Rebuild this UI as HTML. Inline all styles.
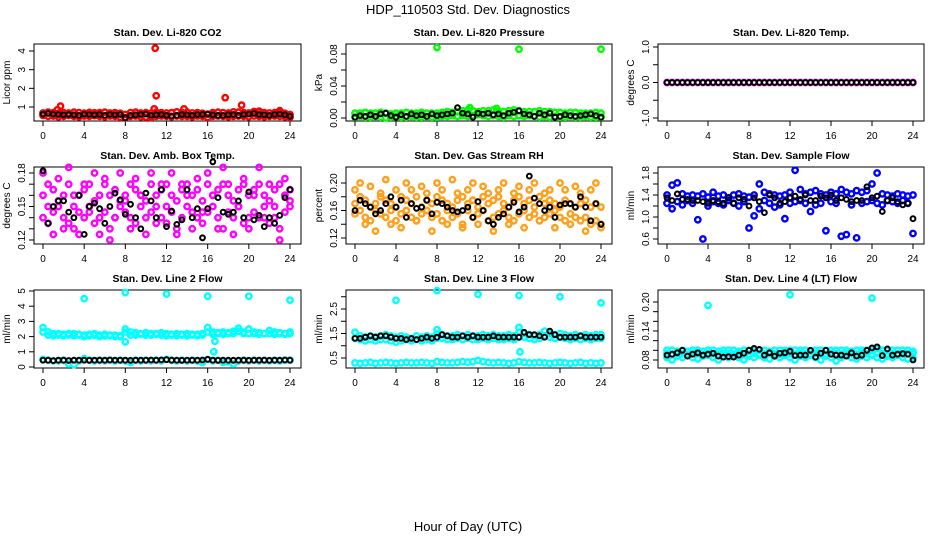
<!DOCTYPE html>
<html><head><meta charset="utf-8">
<style>
html,body{margin:0;padding:0;background:#fff;}
svg{display:block;font-family:"Liberation Sans",sans-serif;}
</style></head>
<body>
<svg id="chart" width="936" height="540" viewBox="0 0 936 540" xmlns="http://www.w3.org/2000/svg">
<text x="468" y="14" text-anchor="middle" font-size="13">HDP_110503  Std. Dev. Diagnostics</text>
<text x="468" y="531" text-anchor="middle" font-size="13">Hour of Day (UTC)</text>
</svg>
<script>
const hours = [0,0.5,1,1.5,2,2.5,3,3.5,4,4.5,5,5.5,6,6.5,7,7.5,8,8.5,9,9.5,10,10.5,11,11.5,12,12.5,13,13.5,14,14.5,15,15.5,16,16.5,17,17.5,18,18.5,19,19.5,20,20.5,21,21.5,22,22.5,23,23.5,24];
const xTicks = [0,4,8,12,16,20,24];

const co2Hi = [0.68,0.72,0.7,0.66,0.7,0.68,0.72,0.7,0.67,0.71,0.69,0.7,0.72,0.68,0.7,0.66,0.6,0.7,0.72,0.68,0.7,0.66,0.72,0.7,0.68,0.7,0.74,0.7,0.72,0.68,0.7,0.66,0.62,0.7,0.72,0.7,0.68,0.74,0.72,0.7,0.68,0.76,0.72,0.7,0.68,0.7,0.72,0.66,0.6];
const co2Lo = [0.55,0.5,0.52,0.48,0.5,0.55,0.5,0.48,0.52,0.5,0.54,0.5,0.48,0.52,0.5,0.46,0.42,0.5,0.52,0.48,0.46,0.44,0.5,0.52,0.5,0.48,0.52,0.5,0.5,0.48,0.52,0.5,0.44,0.5,0.52,0.5,0.48,0.5,0.52,0.5,0.48,0.52,0.5,0.48,0.5,0.52,0.5,0.48,0.45];
const co2Blk = [0.62,0.65,0.62,0.6,0.58,0.6,0.58,0.55,0.62,0.6,0.58,0.6,0.55,0.6,0.58,0.6,0.42,0.55,0.58,0.6,0.62,0.55,0.58,0.6,0.55,0.52,0.55,0.6,0.58,0.55,0.6,0.6,0.62,0.58,0.55,0.55,0.58,0.6,0.55,0.6,0.62,0.65,0.6,0.58,0.55,0.6,0.62,0.58,0.5];
const co2OutX = [1.4,1.7,10.8,10.9,11.0,13.7,17.7,19.3,21.0,23.0];
const co2OutY = [0.85,1.05,0.9,4.15,1.6,0.9,1.5,1.1,0.78,0.8];

const prHi = [0.006,0.006,0.007,0.006,0.006,0.007,0.006,0.005,0.006,0.006,0.007,0.006,0.006,0.007,0.006,0.006,0.006,0.007,0.008,0.007,0.008,0.009,0.01,0.009,0.008,0.009,0.009,0.01,0.009,0.008,0.009,0.01,0.009,0.008,0.008,0.008,0.009,0.008,0.008,0.007,0.007,0.006,0.007,0.007,0.006,0.006,0.006,0.007,0.006];
const prLo = [0.001,0.002,0.001,0.001,0.002,0.001,0.0,0.001,0.002,0.001,0.001,0.002,0.001,0.001,0.002,0.001,0.001,0.002,0.002,0.003,0.002,0.003,0.002,0.003,0.004,0.003,0.002,0.003,0.002,0.001,0.003,0.002,0.003,0.002,0.003,0.002,0.001,0.002,0.001,0.002,0.001,0.001,0.002,0.001,0.001,0.002,0.001,0.001,0.001];
const prBlk = [0.001,0.003,0.002,0.004,0.002,0.005,0.006,0.003,0.001,0.004,0.002,0.005,0.003,0.004,0.002,0.005,0.003,0.004,0.005,0.006,0.013,0.006,0.005,0.001,0.006,0.005,0.006,0.004,0.005,0.003,0.006,0.007,0.009,0.005,0.004,0.002,0.006,0.004,0.006,0.001,0.002,0.004,0.003,0.002,0.003,0.004,0.005,0.003,0.001];
const prOutX = [8,16,24,11.2,13.8];
const prOutY = [0.088,0.086,0.086,0.013,0.012];

const tmpMag = [0,0,0,0,0,0,0,0,0,0,0,0,0,0,0,0,0,0,0,0,0,0,0,0,0,0,0,0,0,0,0,0,0,0,0,0,0,0,0,0,0,0,0,0,0,0,0,0,0];
const tmpBlk = [0,0,0,0,0,0,0,0,0,0,0,0,0,0,0,0,0,0,0,0,0,0,0,0,0,0,0,0,0,0,0,0,0,0,0,0,0,0,0,0,0,0,0,0,0,0,0,0,0];

const ab1 = [0.16,0.17,0.165,0.155,0.16,0.17,0.15,0.16,0.165,0.17,0.155,0.16,0.17,0.16,0.165,0.155,0.16,0.17,0.165,0.16,0.155,0.17,0.16,0.165,0.17,0.16,0.155,0.165,0.17,0.16,0.165,0.155,0.17,0.16,0.165,0.17,0.16,0.155,0.165,0.17,0.16,0.165,0.17,0.16,0.155,0.165,0.17,0.16,0.165];
const ab2 = [0.14,0.135,0.145,0.15,0.14,0.135,0.13,0.145,0.14,0.15,0.135,0.14,0.145,0.13,0.14,0.15,0.145,0.14,0.135,0.15,0.14,0.145,0.135,0.14,0.15,0.145,0.13,0.14,0.15,0.145,0.14,0.135,0.145,0.15,0.14,0.13,0.145,0.14,0.15,0.135,0.14,0.145,0.14,0.15,0.135,0.14,0.13,0.145,0.15];
const ab3 = [0.18,0.15,0.125,0.175,0.13,0.185,0.16,0.125,0.17,0.145,0.18,0.125,0.175,0.12,0.14,0.18,0.155,0.13,0.175,0.16,0.125,0.18,0.15,0.17,0.135,0.18,0.125,0.17,0.16,0.13,0.175,0.145,0.18,0.16,0.13,0.185,0.17,0.125,0.15,0.175,0.13,0.16,0.185,0.14,0.17,0.15,0.12,0.175,0.155];
const abBlk = [0.182,0.135,0.15,0.155,0.155,0.145,0.14,0.16,0.125,0.15,0.153,0.148,0.135,0.15,0.162,0.156,0.143,0.152,0.14,0.13,0.162,0.155,0.14,0.165,0.132,0.146,0.134,0.138,0.165,0.14,0.148,0.122,0.148,0.19,0.158,0.145,0.143,0.145,0.155,0.14,0.163,0.138,0.142,0.132,0.14,0.135,0.142,0.158,0.165];

const rh1 = [0.17,0.18,0.175,0.165,0.17,0.18,0.175,0.17,0.165,0.18,0.175,0.17,0.18,0.165,0.175,0.17,0.18,0.175,0.17,0.165,0.175,0.18,0.17,0.175,0.165,0.18,0.17,0.175,0.18,0.17,0.165,0.175,0.18,0.17,0.175,0.165,0.18,0.17,0.175,0.17,0.165,0.175,0.17,0.165,0.17,0.175,0.165,0.17,0.165];
const rh2 = [0.155,0.16,0.15,0.145,0.16,0.155,0.15,0.16,0.145,0.155,0.16,0.15,0.145,0.155,0.16,0.15,0.155,0.145,0.16,0.15,0.155,0.14,0.16,0.15,0.155,0.16,0.145,0.15,0.155,0.16,0.15,0.145,0.155,0.16,0.15,0.155,0.145,0.15,0.155,0.16,0.15,0.145,0.155,0.15,0.145,0.15,0.14,0.145,0.14];
const rh3 = [0.19,0.2,0.14,0.195,0.13,0.185,0.205,0.14,0.19,0.135,0.2,0.19,0.145,0.195,0.185,0.13,0.2,0.19,0.14,0.205,0.185,0.135,0.19,0.2,0.14,0.195,0.185,0.13,0.19,0.2,0.14,0.185,0.195,0.135,0.19,0.2,0.145,0.185,0.19,0.135,0.2,0.19,0.14,0.195,0.185,0.13,0.19,0.2,0.135];
const rhBlk = [0.16,0.175,0.17,0.165,0.155,0.16,0.17,0.18,0.165,0.175,0.15,0.17,0.163,0.165,0.175,0.155,0.172,0.17,0.165,0.16,0.158,0.16,0.165,0.15,0.173,0.16,0.145,0.14,0.15,0.155,0.165,0.172,0.158,0.165,0.21,0.178,0.17,0.16,0.165,0.15,0.168,0.17,0.17,0.165,0.18,0.165,0.145,0.17,0.14];

const sf1 = [1.4,1.58,1.62,1.42,1.38,1.4,1.38,1.42,1.36,1.45,1.38,1.4,1.35,1.4,1.42,1.38,1.36,1.4,1.6,1.45,1.42,1.4,1.38,1.4,1.45,1.85,1.5,1.42,1.45,1.48,1.42,1.4,1.45,1.42,1.5,1.45,1.42,1.48,1.45,1.48,1.6,1.8,1.42,1.4,1.38,1.42,1.4,1.38,1.4];
const sf2 = [1.25,1.15,1.28,1.22,1.3,1.25,0.95,0.6,1.2,1.28,1.25,1.22,1.3,1.25,1.2,1.28,0.8,1.02,1.15,1.3,1.25,1.18,1.22,0.97,1.25,1.28,1.3,1.25,1.1,1.22,1.25,0.75,1.28,1.25,0.65,0.68,1.22,0.62,1.25,1.28,1.3,1.25,1.22,1.3,1.28,1.25,1.3,1.25,0.7];
const sfBlk = [1.35,1.3,1.42,1.32,1.32,1.3,1.3,1.28,1.25,1.3,1.28,1.25,1.35,1.25,1.35,1.32,1.2,1.35,1.28,1.08,1.4,1.35,1.25,1.28,1.35,1.38,1.32,1.4,1.3,1.3,1.38,1.35,1.4,1.3,1.35,1.32,1.28,1.3,1.3,1.55,1.35,1.38,1.1,1.3,1.35,1.28,1.22,1.25,0.97];

const l2a = [2.6,2.3,2.2,2.2,2.15,2.2,2.2,2.15,2.1,2.15,2.2,2.1,2.15,2.1,2.1,2.05,2.5,2.3,2.25,2.2,2.25,2.2,2.2,2.25,2.2,2.15,2.2,2.15,2.2,2.15,2.15,2.2,2.6,2.3,2.25,2.3,2.25,2.35,2.55,2.3,2.5,2.3,2.25,2.2,2.4,2.3,2.25,2.2,2.3];
const l2b = [2.3,2.1,2.05,2.1,2.05,2.1,2.05,2.1,2.0,2.05,2.1,2.0,2.05,2.05,2.0,2.0,2.3,2.1,2.1,2.15,2.1,2.1,2.15,2.1,2.05,2.1,2.05,2.1,2.05,2.1,2.05,2.1,2.3,2.15,2.2,2.15,2.2,2.2,2.35,2.2,2.2,2.2,2.15,2.2,2.2,2.15,2.2,2.15,2.2];
const l2c = [0.5,0.45,0.4,0.4,0.45,0.2,0.15,0.4,0.55,0.45,0.4,0.45,0.4,0.45,0.4,0.45,0.4,0.3,0.45,0.4,0.45,0.4,0.45,0.4,0.5,0.45,0.4,0.45,0.4,0.45,0.4,0.3,0.5,0.4,0.45,0.3,0.35,0.2,0.4,0.45,0.4,0.45,0.4,0.45,0.4,0.45,0.4,0.45,0.45];
const l2Blk = [0.45,0.45,0.42,0.45,0.45,0.43,0.45,0.45,0.45,0.44,0.45,0.45,0.45,0.46,0.45,0.45,0.45,0.44,0.45,0.45,0.45,0.46,0.45,0.47,0.48,0.45,0.45,0.44,0.45,0.45,0.45,0.46,0.5,0.45,0.44,0.45,0.45,0.44,0.45,0.45,0.44,0.45,0.45,0.45,0.44,0.45,0.45,0.46,0.45];
const l2OutX = [4,8,8,12,16,16.6,16.7,20,24];
const l2OutY = [4.5,4.9,1.65,4.8,4.65,1.0,1.7,4.65,4.4];

const l3a = [1.55,1.4,1.35,1.4,1.35,1.4,1.45,1.4,1.35,1.4,1.35,1.3,1.4,1.35,1.4,1.35,1.5,1.45,1.4,1.4,1.45,1.4,1.45,1.4,1.4,1.45,1.4,1.45,1.4,1.4,1.45,1.4,1.55,1.5,1.45,1.4,1.45,1.6,1.5,1.45,1.5,1.45,1.4,1.45,1.4,1.45,1.4,1.45,1.45];
const l3b = [1.3,1.25,1.2,1.25,1.2,1.25,1.25,1.2,1.15,1.2,1.25,1.2,1.25,1.2,1.25,1.2,1.3,1.3,1.25,1.25,1.3,1.25,1.3,1.25,1.25,1.3,1.25,1.3,1.25,1.25,1.3,1.25,1.35,1.35,1.3,1.25,1.3,1.4,1.35,1.3,1.35,1.3,1.25,1.3,1.25,1.3,1.25,1.3,1.3];
const l3c = [0.3,0.28,0.3,0.32,0.28,0.3,0.32,0.3,0.28,0.3,0.32,0.3,0.3,0.32,0.3,0.28,0.35,0.32,0.3,0.3,0.32,0.35,0.33,0.35,0.4,0.35,0.32,0.3,0.32,0.3,0.28,0.3,0.35,0.32,0.3,0.3,0.32,0.3,0.28,0.3,0.32,0.3,0.28,0.3,0.32,0.28,0.3,0.28,0.3];
const l3Blk = [1.3,1.3,1.35,1.4,1.35,1.4,1.4,1.35,1.3,1.3,1.25,1.3,1.25,1.3,1.35,1.3,1.35,1.45,1.4,1.35,1.35,1.4,1.35,1.4,1.35,1.35,1.35,1.4,1.35,1.35,1.35,1.35,1.35,1.55,1.45,1.45,1.4,1.35,1.6,1.45,1.35,1.35,1.35,1.35,1.4,1.35,1.35,1.35,1.35];
const l3OutX = [4,8,8,12,16,16,16.1,20,24];
const l3OutY = [2.85,3.25,1.65,3.1,3.05,1.75,0.75,3.0,2.75];

const l4a = [0.1,0.1,0.098,0.1,0.098,0.1,0.1,0.098,0.1,0.1,0.098,0.1,0.1,0.1,0.098,0.1,0.1,0.1,0.1,0.1,0.098,0.1,0.1,0.1,0.1,0.1,0.1,0.1,0.098,0.1,0.1,0.1,0.1,0.1,0.1,0.1,0.098,0.1,0.1,0.1,0.1,0.103,0.1,0.1,0.1,0.1,0.1,0.1,0.098];
const l4b = [0.085,0.08,0.088,0.085,0.09,0.085,0.082,0.088,0.09,0.085,0.08,0.088,0.085,0.09,0.085,0.08,0.088,0.085,0.09,0.085,0.082,0.088,0.085,0.09,0.085,0.08,0.088,0.085,0.09,0.085,0.08,0.088,0.085,0.078,0.085,0.09,0.085,0.082,0.088,0.085,0.09,0.085,0.082,0.088,0.085,0.09,0.085,0.082,0.085];
const l4c = [0.093,0.092,0.094,0.093,0.092,0.094,0.093,0.092,0.094,0.093,0.092,0.094,0.093,0.092,0.094,0.093,0.092,0.094,0.093,0.092,0.094,0.093,0.092,0.094,0.093,0.092,0.094,0.093,0.092,0.094,0.093,0.092,0.094,0.093,0.092,0.094,0.093,0.092,0.094,0.093,0.092,0.094,0.093,0.092,0.094,0.093,0.092,0.094,0.093];
const l4Blk = [0.09,0.092,0.095,0.1,0.088,0.092,0.095,0.09,0.092,0.094,0.088,0.086,0.087,0.086,0.09,0.094,0.1,0.104,0.102,0.09,0.095,0.088,0.094,0.095,0.098,0.089,0.09,0.09,0.1,0.086,0.094,0.1,0.092,0.09,0.09,0.088,0.095,0.088,0.09,0.1,0.105,0.107,0.089,0.103,0.09,0.092,0.093,0.092,0.08];
const l4OutX = [4,12,20];
const l4OutY = [0.193,0.215,0.208];

const svg = document.getElementById('chart');
const NS = 'http://www.w3.org/2000/svg';
const colLeft = [34,346,658], colRight = [301,612,924];
const rowTop = [44,167,290], rowBottom = [121,244,368];

function mk(tag, attrs){ const e=document.createElementNS(NS,tag); for(const k in attrs) e.setAttribute(k,attrs[k]); return e; }

function panel(p){
  const L=colLeft[p.c], Rr=colRight[p.c], T=rowTop[p.r], B=rowBottom[p.r];
  const x0=L+9, x24=Rr-11;
  const xs=v=>x0+(v/24)*(x24-x0);
  const ys=v=>p.py0+(v-p.v0)*(p.py1-p.py0)/(p.v1-p.v0);
  const g=mk('g',{});
  
  
  svg.appendChild(g);
  const t=mk('text',{x:(L+Rr)/2,y:T-8,'text-anchor':'middle','font-size':'10.5','font-weight':'bold'});
  t.textContent=p.title;
  
  
  g.appendChild(t);
  const box=mk('rect',{x:L,y:T,width:Rr-L,height:B-T,fill:'none',stroke:'#000','stroke-width':1});
  
  
  g.appendChild(box);
  const xa=mk('g',{});
  
  
  g.appendChild(xa);
  xTicks.forEach(v=>{
    xa.appendChild(mk('line',{x1:xs(v),x2:xs(v),y1:B,y2:B+5,stroke:'#000'}));
    const lt=mk('text',{x:xs(v),y:B+18,'text-anchor':'middle','font-size':'10'});
    lt.textContent=v; xa.appendChild(lt);
  });
  const ya=mk('g',{});
  
  
  g.appendChild(ya);
  const yt=p.ticks;
  ya.appendChild(mk('line',{x1:L,x2:L,y1:ys(yt[0]),y2:ys(yt[yt.length-1]),stroke:'#000'}));
  yt.forEach(v=>ya.appendChild(mk('line',{x1:L-5,x2:L,y1:ys(v),y2:ys(v),stroke:'#000'})));
  p.labels.forEach(v=>{
    const y=ys(v);
    const lt=mk('text',{x:L-9,y:y,'text-anchor':'middle','font-size':'10',transform:`rotate(-90 ${L-9} ${y})`});
    lt.textContent=(p.fmt?p.fmt(v):String(v)); ya.appendChild(lt);
  });
  const yl=mk('text',{x:L-24,y:(T+B)/2,'text-anchor':'middle','font-size':'10',transform:`rotate(-90 ${L-24} ${(T+B)/2})`});
  yl.textContent=p.ylab;
  
  
  g.appendChild(yl);
  p.series.forEach(s=>{
    const isBlk = s.color==='#000';
    const sg=mk('g',{fill:'none',stroke:s.color,'stroke-width':isBlk?2.0:2.4});
    
    
    g.appendChild(sg);
    s.y.forEach((v,i)=>{
      const c=mk('circle',{cx:xs(s.x[i]).toFixed(1),cy:ys(v).toFixed(1),r:isBlk?2.4:2.7});
      sg.appendChild(c);
    });
  });
}

const f2=v=>v.toFixed(2), f1=v=>v.toFixed(1);
const MAG='#ff00ff', CY='#00ffff', OR='#ff9f1a';
panel({c:0,r:0,name:'co2',title:'Stan. Dev. Li-820 CO2',ylab:'Licor ppm',v0:1,py0:107,v1:4,py1:51,ticks:[1,2,3,4],labels:[1,2,3,4],
  series:[{id:'red-hi',x:hours,y:co2Hi,color:'#ff0000'},{id:'red-lo',x:hours,y:co2Lo,color:'#ff0000'},{id:'red-out',x:co2OutX,y:co2OutY,color:'#ff0000'},{id:'black',x:hours,y:co2Blk,color:'#000'}]});
panel({c:1,r:0,name:'pressure',title:'Stan. Dev. Li-820 Pressure',ylab:'kPa',v0:0,py0:118,v1:0.08,py1:54,ticks:[0,0.02,0.04,0.06,0.08],labels:[0,0.04,0.08],fmt:f2,
  series:[{id:'green-hi',x:hours,y:prHi,color:'#00ff00'},{id:'green-lo',x:hours,y:prLo,color:'#00ff00'},{id:'green-out',x:prOutX,y:prOutY,color:'#00ff00'},{id:'black',x:hours,y:prBlk,color:'#000'}]});
panel({c:2,r:0,name:'temp',title:'Stan. Dev. Li-820 Temp.',ylab:'degrees C',v0:-1,py0:118,v1:1,py1:47,ticks:[-1,-0.5,0,0.5,1],labels:[-1,0,1],fmt:f1,
  series:[{id:'magenta',x:hours,y:tmpMag,color:MAG},{id:'black',x:hours,y:tmpBlk,color:'#000'}]});
panel({c:0,r:1,name:'amb-box',title:'Stan. Dev. Amb. Box Temp.',ylab:'degrees C',v0:0.12,py0:240,v1:0.18,py1:173,ticks:[0.12,0.13,0.14,0.15,0.16,0.17,0.18],labels:[0.12,0.15,0.18],fmt:f2,
  series:[{id:'magenta-1',x:hours,y:ab1,color:MAG},{id:'magenta-2',x:hours,y:ab2,color:MAG},{id:'magenta-3',x:hours,y:ab3,color:MAG},{id:'black',x:hours,y:abBlk,color:'#000'}]});
panel({c:1,r:1,name:'gas-rh',title:'Stan. Dev. Gas Stream RH',ylab:'percent',v0:0.12,py0:238,v1:0.2,py1:183,ticks:[0.12,0.14,0.16,0.18,0.2],labels:[0.12,0.16,0.2],fmt:f2,
  series:[{id:'orange-1',x:hours,y:rh1,color:OR},{id:'orange-2',x:hours,y:rh2,color:OR},{id:'orange-3',x:hours,y:rh3,color:OR},{id:'black',x:hours,y:rhBlk,color:'#000'}]});
panel({c:2,r:1,name:'sample-flow',title:'Stan. Dev. Sample Flow',ylab:'ml/min',v0:0.6,py0:239,v1:1.8,py1:173,ticks:[0.6,0.8,1,1.2,1.4,1.6,1.8],labels:[0.6,1,1.4,1.8],fmt:f1,
  series:[{id:'blue-1',x:hours,y:sf1,color:'#0000ff'},{id:'blue-2',x:hours,y:sf2,color:'#0000ff'},{id:'black',x:hours,y:sfBlk,color:'#000'}]});
panel({c:0,r:2,name:'line2',title:'Stan. Dev. Line 2 Flow',ylab:'ml/min',v0:0,py0:367,v1:5,py1:291,ticks:[0,1,2,3,4,5],labels:[0,1,2,3,4,5],
  series:[{id:'cyan-1',x:hours,y:l2a,color:CY},{id:'cyan-2',x:hours,y:l2b,color:CY},{id:'cyan-3',x:hours,y:l2c,color:CY},{id:'cyan-out',x:l2OutX,y:l2OutY,color:CY},{id:'black',x:hours,y:l2Blk,color:'#000'}]});
panel({c:1,r:2,name:'line3',title:'Stan. Dev. Line 3 Flow',ylab:'ml/min',v0:0.5,py0:358,v1:2.5,py1:309,ticks:[0.5,1,1.5,2,2.5,3],labels:[0.5,1.5,2.5],fmt:f1,
  series:[{id:'cyan-1',x:hours,y:l3a,color:CY},{id:'cyan-2',x:hours,y:l3b,color:CY},{id:'cyan-3',x:hours,y:l3c,color:CY},{id:'cyan-out',x:l3OutX,y:l3OutY,color:CY},{id:'black',x:hours,y:l3Blk,color:'#000'}]});
panel({c:2,r:2,name:'line4',title:'Stan. Dev. Line 4 (LT) Flow',ylab:'ml/min',v0:0.08,py0:360,v1:0.2,py1:302,ticks:[0.08,0.1,0.12,0.14,0.16,0.18,0.2],labels:[0.08,0.14,0.2],fmt:f2,
  series:[{id:'cyan-1',x:hours,y:l4a,color:CY},{id:'cyan-2',x:hours,y:l4b,color:CY},{id:'cyan-3',x:hours,y:l4c,color:CY},{id:'cyan-out',x:l4OutX,y:l4OutY,color:CY},{id:'black',x:hours,y:l4Blk,color:'#000'}]});
</script>
</body></html>
